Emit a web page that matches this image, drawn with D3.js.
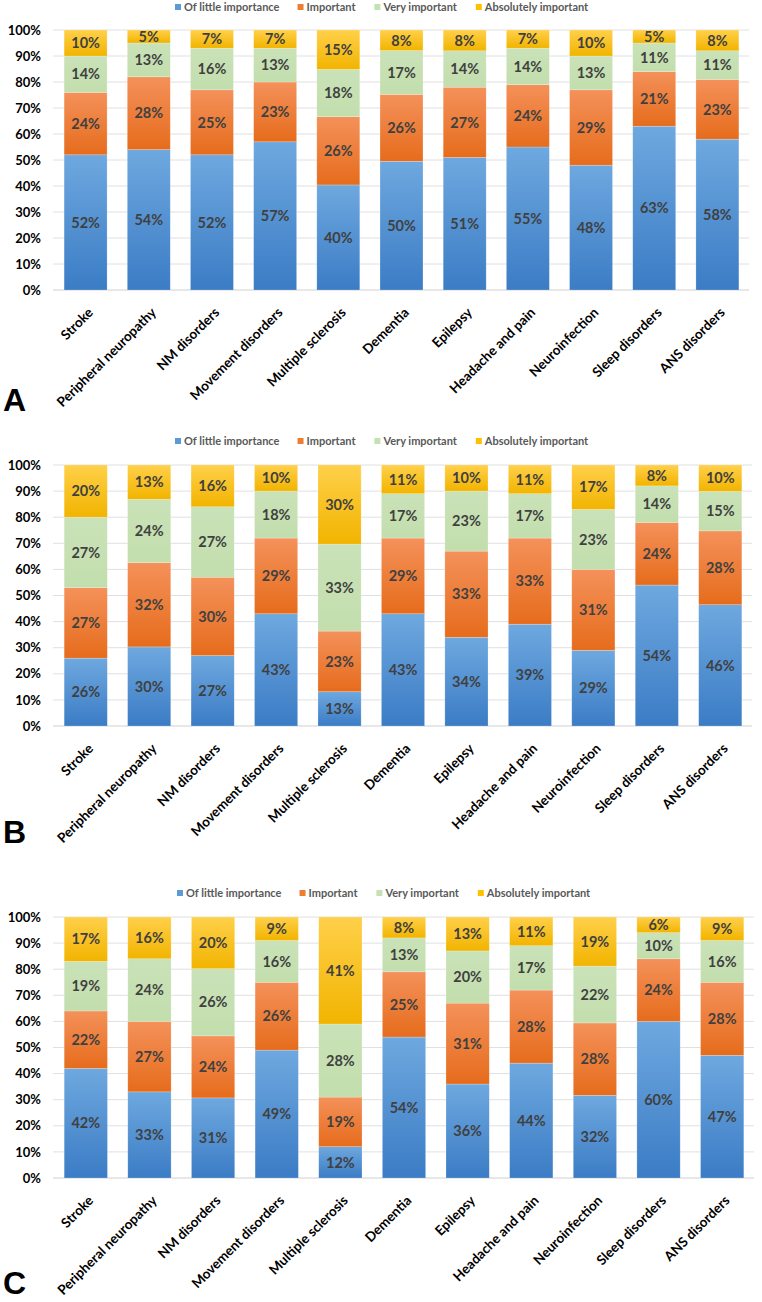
<!DOCTYPE html>
<html><head><meta charset="utf-8">
<script src="https://cdn.jsdelivr.net/npm/d3@7"></script>
<style>
html,body{margin:0;padding:0;background:#fff;}
svg{display:block;font-family:Lato,"Open Sans",sans-serif;}
</style></head>
<body>
<svg id="chart" width="762" height="1302"></svg>
<script>
const categories = ["Stroke","Peripheral neuropathy","NM disorders","Movement disorders","Multiple sclerosis","Dementia","Epilepsy","Headache and pain","Neuroinfection","Sleep disorders","ANS disorders"];
const seriesNames = ["Of little importance","Important","Very important","Absolutely important"];
const yTicks = [0,10,20,30,40,50,60,70,80,90,100];

// Panel A
const A_little   = [52,54,52,57,40,50,51,55,48,63,58];
const A_import   = [24,28,25,23,26,26,27,24,29,21,23];
const A_very     = [14,13,16,13,18,17,14,14,13,11,11];
const A_absol    = [10,5,7,7,15,8,8,7,10,5,8];
// Panel B
const B_little   = [26,30,27,43,13,43,34,39,29,54,46];
const B_import   = [27,32,30,29,23,29,33,33,31,24,28];
const B_very     = [27,24,27,18,33,17,23,17,23,14,15];
const B_absol    = [20,13,16,10,30,11,10,11,17,8,10];
// Panel C
const C_little   = [42,33,31,49,12,54,36,44,32,60,47];
const C_import   = [22,27,24,26,19,25,31,28,28,24,28];
const C_very     = [19,24,26,16,28,13,20,17,22,10,16];
const C_absol    = [17,16,20,9,41,8,13,11,19,6,9];

const panels = [
  {letter:"A", series:[A_little,A_import,A_very,A_absol], legendY:7, legendX:175, top:30, bottom:290, x0:54, x1:749, letterY:411},
  {letter:"B", series:[B_little,B_import,B_very,B_absol], legendY:441, legendX:175, top:465, bottom:726, x0:54, x1:752, letterY:843},
  {letter:"C", series:[C_little,C_import,C_very,C_absol], legendY:893, legendX:177, top:917, bottom:1178, x0:54, x1:754, letterY:1294}
];

const svg = d3.select("#chart");
const defs = svg.append("defs");
const grads = [
  ["gBlue", "#6ea8df", "#3b7cc5"],
  ["gOrange", "#f4915a", "#e66c1c"],
  ["gGreen", "#c9e2b8", "#c3dead"],
  ["gGold", "#ffd04a", "#f2b400"]
];
grads.forEach(([id,c1,c2])=>{
  const g = defs.append("linearGradient").attr("id",id).attr("x1",0).attr("y1",0).attr("x2",0).attr("y2",1);
  g.append("stop").attr("offset","0%").attr("stop-color",c1);
  g.append("stop").attr("offset","100%").attr("stop-color",c2);
});
const fills = ["url(#gBlue)","url(#gOrange)","url(#gGreen)","url(#gGold)"];
const legendColors = ["#5b9bd5","#ed7d31","#c5e0b4","#ffc000"];

panels.forEach(p=>{
  const g = svg.append("g");
  const x = d3.scaleBand().domain(categories).range([p.x0,p.x1]).paddingInner(0.32).paddingOuter(0.16);
  const y = d3.scaleLinear().domain([0,100]).range([p.bottom,p.top]);

  // gridlines
  g.append("g").selectAll("line").data(yTicks).join("line")
    .attr("x1",p.x0-1).attr("x2",p.x1).attr("y1",d=>y(d)).attr("y2",d=>y(d))
    .attr("stroke",d=>d===0?"#d0d0d0":"#e0e0e0").attr("stroke-width",1);

  // y axis labels
  const yAxis = d3.axisLeft(y).tickValues(yTicks).tickFormat(d=>d+"%").tickSize(0).tickPadding(0);
  const ya = g.append("g").attr("transform",`translate(${41},0)`).call(yAxis);
  ya.select(".domain").remove();
  ya.selectAll("text").attr("font-size",13).attr("font-weight","bold").attr("fill","#000").attr("font-family","Lato,sans-serif");

  // stack
  const rows = categories.map((c,i)=>{
    const vals = p.series.map(s=>s[i]);
    const sum = d3.sum(vals);
    const o = {cat:c};
    vals.forEach((v,k)=>{o["s"+k]=v/sum*100; o["r"+k]=v;});
    return o;
  });
  const stack = d3.stack().keys([0,1,2,3].map(k=>"s"+k))(rows);
  stack.forEach((layer,k)=>{
    const lg = g.append("g");
    lg.selectAll("rect").data(layer).join("rect")
      .attr("x",d=>x(d.data.cat)).attr("width",x.bandwidth())
      .attr("y",d=>y(d[1])).attr("height",d=>y(d[0])-y(d[1]))
      .attr("fill",fills[k]).attr("stroke","#ffffff").attr("stroke-opacity",0.35).attr("stroke-width",0.6);
    lg.selectAll("text").data(layer).join("text")
      .attr("x",d=>x(d.data.cat)+x.bandwidth()/2)
      .attr("y",d=>(y(d[0])+y(d[1]))/2)
      .attr("dy","0.36em").attr("text-anchor","middle")
      .attr("font-size",14.5).attr("font-weight","bold").attr("fill","#404040")
      .text(d=>d.data["r"+k]+"%");
  });

  // x axis labels
  const xa = g.append("g").attr("transform",`translate(0,${p.bottom})`)
    .call(d3.axisBottom(x).tickSize(0).tickPadding(0));
  xa.select(".domain").remove();
  xa.selectAll("text")
    .attr("font-size",13.5).attr("font-weight","bold").attr("fill","#000").attr("font-family","Lato,sans-serif")
    .attr("text-anchor","end")
    .attr("transform","translate(5,20) rotate(-45)")
    .attr("dy","0.35em");

  // legend
  const leg = g.append("g");
  const items = leg.selectAll("g").data(seriesNames).join("g");
  items.append("rect").attr("width",6).attr("height",6).attr("y",-3).attr("fill",(d,i)=>legendColors[i]);
  items.append("text").attr("x",9).attr("dy","0.35em").attr("font-size",11).attr("font-weight","bold")
    .attr("fill","#595959").text(d=>d);
  let cx = 0;
  const widths = [];
  items.each(function(){ widths.push(this.getBBox().width); });
  const gap = 18;
  items.attr("transform",(d,i)=>{ const t=`translate(${p.legendX+cx},${p.legendY})`; cx+=widths[i]+gap; return t; });

  // panel letter
  g.append("text").attr("x",3).attr("y",p.letterY).attr("font-size",32).attr("font-weight","bold")
    .attr("font-family","Liberation Sans,Arial,sans-serif").attr("fill","#000").text(p.letter);
});
</script>
</body></html>
